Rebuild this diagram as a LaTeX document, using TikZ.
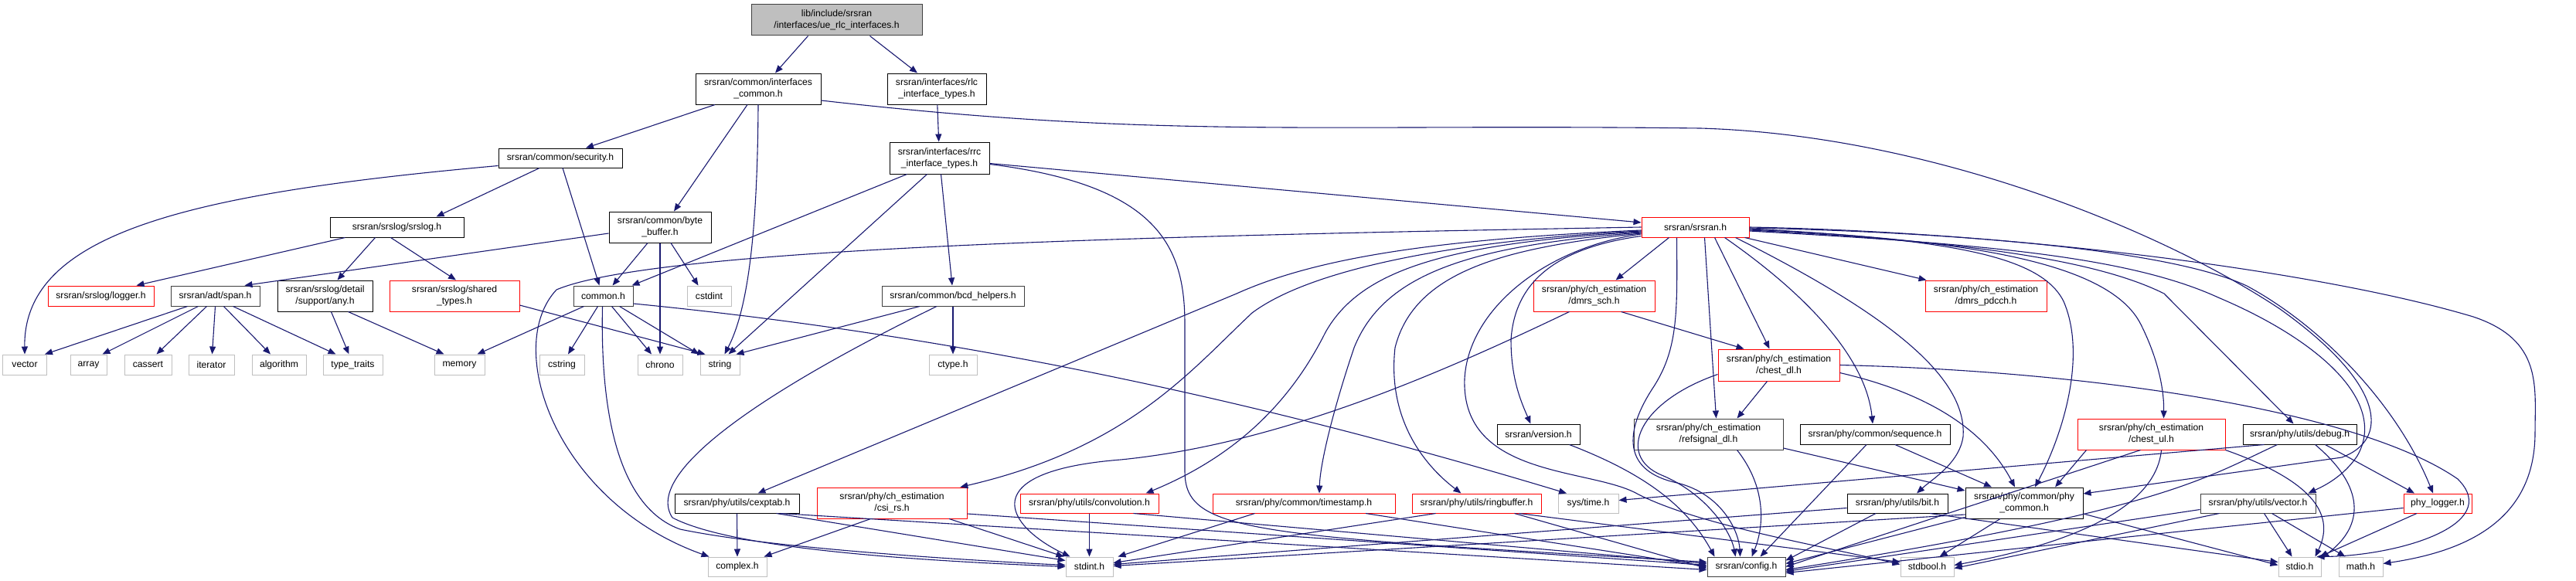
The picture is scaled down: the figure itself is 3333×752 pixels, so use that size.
\documentclass[tikz,border=0pt]{standalone}
\usepackage{fontspec}
\setmainfont{Liberation Sans}
\usetikzlibrary{arrows.meta,calc}
\definecolor{edgec}{HTML}{191970}
\definecolor{redc}{HTML}{FF0000}
\definecolor{grayc}{HTML}{BFBFBF}
\definecolor{darkc}{HTML}{404040}
\newcommand\Nd[6]{\node[#1,minimum width=#2bp,minimum height=#3bp] (#4) at (#5) {#6};}
\begin{document}
\begin{tikzpicture}[x=1bp,y=-1bp,
  box/.style={draw=black,line width=1bp,inner sep=0pt,align=center,fill=white,
    font=\fontsize{12.2}{15}\selectfont},
  rbox/.style={box,draw=redc},
  gbox/.style={box,draw=grayc},
  dbox/.style={box,draw=darkc},
  rootbox/.style={box,fill=grayc,draw=darkc},
  e/.style={draw=edgec,line width=1.1bp,-{Triangle[length=10bp,width=8bp]}},
]
\useasboundingbox (0,0) rectangle (3333,752);
% ---------------- nodes
\Nd{rootbox}{221}{40}{root}{1082.5,26}{lib/include/srsran\\/interfaces/ue\_rlc\_interfaces.h}
\Nd{box}{162}{40}{ifcommon}{981,115}{srsran/common/interfaces\\\_common.h}
\Nd{box}{128}{40}{rlctypes}{1212,115}{srsran/interfaces/rlc\\\_interface\_types.h}
\Nd{box}{129}{41}{rrctypes}{1215.5,204.5}{srsran/interfaces/rrc\\\_interface\_types.h}
\Nd{box}{160}{25}{security}{725,204.5}{srsran/common/security.h}
\Nd{box}{173}{26}{srslog}{513.5,294}{srsran/srslog/srslog.h}
\Nd{box}{132}{40}{bytebuffer}{854,294}{srsran/common/byte\\\_buffer.h}
\Nd{rbox}{139}{26}{srsranh}{2193.5,294}{srsran/srsran.h}
\Nd{rbox}{137}{26}{logger}{130.5,383}{srsran/srslog/logger.h}
\Nd{dbox}{115}{26}{span}{278.5,383}{srsran/adt/span.h}
\Nd{box}{123}{40}{any}{420.5,383}{srsran/srslog/detail\\/support/any.h}
\Nd{rbox}{168}{40}{sharedtypes}{588,383}{srsran/srslog/shared\\\_types.h}
\Nd{dbox}{77}{26}{commonh}{780.5,383}{common.h}
\Nd{gbox}{57}{26}{cstdint}{917.5,383}{cstdint}
\Nd{dbox}{184}{26}{bcd}{1233,383}{srsran/common/bcd\_helpers.h}
\Nd{rbox}{157}{40}{dmrssch}{2062.5,383}{srsran/phy/ch\_estimation\\/dmrs\_sch.h}
\Nd{rbox}{157}{40}{dmrspdcch}{2569.5,383}{srsran/phy/ch\_estimation\\/dmrs\_pdcch.h}
\Nd{gbox}{56}{26}{vector}{32,472}{vector}
\Nd{gbox}{47}{26}{array}{114.5,472}{array}
\Nd{gbox}{61}{26}{cassert}{191.5,472}{cassert}
\Nd{gbox}{59}{26}{iterator}{273.5,472}{iterator}
\Nd{gbox}{70}{26}{algorithm}{361,472}{algorithm}
\Nd{gbox}{77}{26}{typetraits}{456.5,472}{type\_traits}
\Nd{gbox}{65}{26}{memory}{594.5,472}{memory}
\Nd{gbox}{58}{26}{cstring}{727,472}{cstring}
\Nd{gbox}{58}{26}{chrono}{854,472}{chrono}
\Nd{gbox}{51}{26}{string}{931.5,472}{string}
\Nd{gbox}{62}{26}{ctype}{1233,472}{ctype.h}
\Nd{rbox}{157}{41}{chestdl}{2301.5,472.5}{srsran/phy/ch\_estimation\\/chest\_dl.h}
\Nd{box}{107}{26}{version}{1990.5,562}{srsran/version.h}
\Nd{dbox}{193}{40}{refsignal}{2210.5,562}{srsran/phy/ch\_estimation\\/refsignal\_dl.h}
\Nd{box}{194}{26}{sequence}{2426,562}{srsran/phy/common/sequence.h}
\Nd{rbox}{191}{40}{chestul}{2783.5,562}{srsran/phy/ch\_estimation\\/chest\_ul.h}
\Nd{box}{147}{26}{debug}{2975.5,562}{srsran/phy/utils/debug.h}
\Nd{box}{161}{25}{cexptab}{953.5,651.5}{srsran/phy/utils/cexptab.h}
\Nd{rbox}{194}{40}{csirs}{1154,651}{srsran/phy/ch\_estimation\\/csi\_rs.h}
\Nd{rbox}{179}{25}{convolution}{1409.5,651.5}{srsran/phy/utils/convolution.h}
\Nd{rbox}{236}{25}{timestamp}{1687,651.5}{srsran/phy/common/timestamp.h}
\Nd{rbox}{167}{25}{ringbuffer}{1910.5,651.5}{srsran/phy/utils/ringbuffer.h}
\Nd{gbox}{78}{25}{systime}{2055,651.5}{sys/time.h}
\Nd{box}{130}{25}{bit}{2455,651.5}{srsran/phy/utils/bit.h}
\Nd{box}{152}{40}{phycommon}{2619,651}{srsran/phy/common/phy\\\_common.h}
\Nd{dbox}{149}{25}{vectorh}{2921.5,651.5}{srsran/phy/utils/vector.h}
\Nd{rbox}{88}{25}{phylogger}{3154,651.5}{phy\_logger.h}
\Nd{gbox}{76}{25}{complex}{954,733.5}{complex.h}
\Nd{gbox}{61}{25}{stdint}{1409.5,733.5}{stdint.h}
\Nd{dbox}{101}{25}{config}{2259.5,733.5}{srsran/config.h}
\Nd{gbox}{69}{25}{stdbool}{2493.5,733.5}{stdbool.h}
\Nd{gbox}{55}{25}{stdio}{2975.5,733.5}{stdio.h}
\Nd{gbox}{57}{25}{math}{3054.5,733.5}{math.h}
% ---------------- edges
% root
\draw[e] ($(root.south)+(-37,0)$) -- ($(ifcommon.north)+(22,0)$);
\draw[e] ($(root.south)+(43,0)$) -- ($(rlctypes.north)+(-25,0)$);
% interfaces_common
\draw[e] ($(ifcommon.south)+(-56,0)$) -- ($(security.north)+(33,0)$);
\draw[e] ($(ifcommon.south)+(-14,0)$) -- ($(bytebuffer.north)+(18,0)$);
\draw[e] (ifcommon.south) .. controls (980,300) and (968,400) .. ($(string.north)+(6,0)$);
\draw[e] ($(ifcommon.east)+(0,15)$) .. controls (1500,180) and (1700,160) .. (2200,166)
   .. controls (2500,175) and (2800,300) .. (2950,400)
   .. controls (3090,500) and (3090,570) .. (3030,592) -- ($(phycommon.east)+(0,-12)$);
% rlc types
\draw[e] (rlctypes) -- (rrctypes);
% rrc types
\draw[e] ($(rrctypes.south)+(-42,0)$) -- ($(commonh.north)+(37,0)$);
\draw[e] ($(rrctypes.south)+(-16,0)$) -- ($(string.north)+(11,0)$);
\draw[e] ($(rrctypes.south)+(2,0)$) -- ($(bcd.north)+(-1,0)$);
\draw[e] ($(rrctypes.east)+(0,7)$) -- ($(srsranh.west)+(0,-6)$);
\draw[e] ($(rrctypes.east)+(0,8)$) .. controls (1500,240) and (1533,320) .. (1533,420) -- (1533,610)
   .. controls (1533,690) and (1620,693) .. ($(config.west)+(0,-6)$);
% security
\draw[e] ($(security.west)+(0,10)$) .. controls (250,250) and (30,300) .. (vector.north);
\draw[e] ($(security.south)+(-27,0)$) -- ($(srslog.north)+(51,0)$);
\draw[e] ($(security.south)+(3,0)$) -- ($(commonh.north)+(-5,0)$);
% srslog
\draw[e] ($(srslog.south)+(-67,0)$) -- ($(logger.north)+(46,0)$);
\draw[e] ($(srslog.south)+(-28,0)$) -- ($(any.north)+(16,0)$);
\draw[e] ($(srslog.south)+(-8,0)$) -- ($(sharedtypes.north)+(2,0)$);
% byte buffer
\draw[e] ($(bytebuffer.west)+(0,8)$) -- ($(span.north east)+(-20,0)$);
\draw[e] ($(bytebuffer.south)+(-16,0)$) -- ($(commonh.north)+(12,0)$);
\draw[e] (bytebuffer.south) -- (chrono.north);
\draw[e] ($(bytebuffer.south)+(14,0)$) -- ($(cstdint.north)+(-14,0)$);
% span
\draw[e] ($(span.south)+(-36,0)$) -- ($(vector.north)+(26,0)$);
\draw[e] ($(span.south)+(-22,0)$) -- ($(array.north)+(18,0)$);
\draw[e] ($(span.south)+(-11,0)$) -- ($(cassert.north)+(11,0)$);
\draw[e] (span.south) -- ($(iterator.north)+(1,0)$);
\draw[e] ($(span.south)+(11,0)$) -- ($(algorithm.north)+(-11,0)$);
\draw[e] ($(span.south)+(23,0)$) -- ($(typetraits.north)+(-22,0)$);
% any
\draw[e] ($(any.south)+(8,0)$) -- ($(typetraits.north)+(-5,0)$);
\draw[e] ($(any.south)+(30,0)$) -- ($(memory.north)+(-20,0)$);
% shared types
\draw[e] ($(sharedtypes.east)+(0,12)$) -- ($(string.north)+(-19,0)$);
% common.h
\draw[e] ($(commonh.south)+(-25,0)$) -- ($(memory.north)+(23,0)$);
\draw[e] ($(commonh.south)+(-7,0)$) -- ($(cstring.north)+(8,0)$);
\draw[e] ($(commonh.south)+(11,0)$) -- ($(chrono.north)+(-11,0)$);
\draw[e] ($(commonh.south)+(21,0)$) -- ($(string.north)+(-27,0)$);
\draw[e] ($(commonh.south)+(-1,0)$) .. controls (776,560) and (810,660) .. (880,685)
   .. controls (1000,710) and (1250,725) .. ($(stdint.west)+(0,-2)$);
\draw[e] ($(commonh.east)+(0,10)$) .. controls (1300,440) and (1700,540) .. ($(systime.north)+(-28,0)$);
% bcd helpers
\draw[e] (bcd.south) -- (ctype.north);
\draw[e] ($(bcd.south)+(-43,0)$) -- ($(string.north)+(21,0)$);
\draw[e] ($(bcd.south)+(-21,0)$) .. controls (1000,500) and (830,610) .. (870,670)
   .. controls (950,712) and (1200,726) .. ($(stdint.west)+(0,0)$);
% srsran.h : left fan
\draw[e] (srsranh.west) .. controls (1500,305) and (850,320) .. (720,375)
   .. controls (650,450) and (720,650) .. ($(complex.north west)+(2,0)$);
\draw[e] ($(srsranh.west)+(0,4)$) .. controls (1850,310) and (1700,335) .. (1600,380) -- ($(cexptab.north)+(27,0)$);
\draw[e] ($(srsranh.west)+(0,5)$) .. controls (1900,310) and (1700,345) .. (1620,405)
   .. controls (1540,480) and (1460,580) .. (csirs);
\draw[e] ($(srsranh.west)+(0,6)$) .. controls (1870,315) and (1760,350) .. (1715,430)
   .. controls (1670,520) and (1600,590) .. ($(convolution.north)+(73,0)$);
\draw[e] ($(srsranh.west)+(0,7)$) .. controls (1900,318) and (1790,355) .. (1752,450)
   .. controls (1725,530) and (1708,600) .. ($(timestamp.north)+(20,0)$);
\draw[e] ($(srsranh.west)+(0,8)$) .. controls (1950,320) and (1830,350) .. (1805,450)
   .. controls (1795,540) and (1840,600) .. ($(ringbuffer.north)+(-20,0)$);
\draw[e] ($(srsranh.west)+(0,9)$) .. controls (2000,320) and (1900,400) .. (1895,490)
   .. controls (1890,620) and (2060,605) .. (2120,640)
   .. controls (2200,680) and (2350,705) .. ($(stdbool.west)+(0,-3)$);
\draw[e] ($(srsranh.south west)+(0,-2)$) .. controls (2020,320) and (1960,360) .. (1955,440)
   .. controls (1955,490) and (1968,520) .. ($(version.north)+(-10,0)$);
% srsran.h : down fan
\draw[e] ($(srsranh.south)+(-34,0)$) -- ($(dmrssch.north)+(28,0)$);
\draw[e] ($(srsranh.south)+(-24,0)$) .. controls (2170,400) and (2172,450) .. (2140,500)
   .. controls (2100,560) and (2100,610) .. (2170,625)
   .. controls (2230,640) and (2250,690) .. ($(config.north)+(-8,0)$);
\draw[e] ($(srsranh.south)+(12,0)$) -- ($(refsignal.north)+(10,0)$);
\draw[e] ($(srsranh.south)+(25,0)$) -- ($(chestdl.north)+(-12,0)$);
\draw[e] ($(srsranh.south)+(38,0)$) .. controls (2350,390) and (2415,470) .. ($(sequence.north)+(-3,0)$);
\draw[e] ($(srsranh.south)+(52,0)$) .. controls (2450,410) and (2545,490) .. (2540,565)
   .. controls (2535,600) and (2500,620) .. ($(bit.north)+(25,0)$);
\draw[e] ($(srsranh.south east)+(-6,0)$) -- ($(dmrspdcch.north west)+(2,0)$);
% srsran.h : right fan
\draw[e] ($(srsranh.east)+(0,2)$) .. controls (2520,310) and (2640,330) .. (2670,390)
   .. controls (2700,460) and (2670,560) .. ($(phycommon.north)+(14,0)$);
\draw[e] ($(srsranh.east)+(0,3)$) .. controls (2550,310) and (2730,340) .. (2770,420)
   .. controls (2795,470) and (2800,510) .. ($(chestul.north)+(16,0)$);
\draw[e] ($(srsranh.east)+(0,4)$) .. controls (2500,310) and (2700,330) .. (2800,380) -- ($(debug.north)+(-8,0)$);
\draw[e] ($(srsranh.east)+(0,5)$) .. controls (2550,315) and (2750,330) .. (2870,385)
   .. controls (3000,440) and (3090,520) .. (3050,590)
   .. controls (3030,620) and (3000,632) .. ($(vectorh.north)+(65,0)$);
\draw[e] ($(srsranh.east)+(0,1)$) .. controls (2500,300) and (2800,320) .. (2907,370)
   .. controls (3000,420) and (3100,520) .. ($(phylogger.north)+(-6,0)$);
\draw[e] ($(srsranh.east)+(0,0)$) .. controls (2600,300) and (3000,350) .. (3200,410)
   .. controls (3290,440) and (3280,500) .. (3280,560)
   .. controls (3280,680) and (3180,715) .. ($(math.east)+(0,-4)$);
% dmrs_sch
\draw[e] ($(dmrssch.south)+(35,0)$) -- ($(chestdl.north)+(-45,0)$);
\draw[e] ($(dmrssch.south)+(-32,0)$) .. controls (1850,490) and (1650,575) .. (1450,595)
   .. controls (1260,610) and (1300,680) .. ($(stdint.north)+(-25,0)$);
% cexptab
\draw[e] (cexptab.south) -- (complex.north);
\draw[e] ($(cexptab.south east)+(-30,0)$) -- ($(stdint.west)+(0,-8)$);
\draw[e] ($(cexptab.south east)+(-25,0)$) -- ($(config.west)+(0,4)$);
% csi_rs
\draw[e] ($(csirs.south west)+(70,0)$) -- ($(complex.north east)+(-4,0)$);
\draw[e] ($(csirs.south)+(74,0)$) -- ($(stdint.north west)+(-2,0)$);
\draw[e] ($(csirs.east)+(0,14)$) -- ($(config.west)+(0,-2)$);
% convolution
\draw[e] (convolution.south) -- (stdint.north);
\draw[e] ($(convolution.south)+(57,0)$) -- ($(config.west)+(0,-4)$);
% timestamp
\draw[e] ($(timestamp.south west)+(55,0)$) -- ($(stdint.north east)+(6,0)$);
\draw[e] ($(timestamp.south)+(80,0)$) -- ($(config.west)+(0,0)$);
% ringbuffer
\draw[e] ($(ringbuffer.south)+(-53,0)$) -- ($(stdint.east)+(0,-5)$);
\draw[e] ($(ringbuffer.south)+(49,0)$) -- ($(config.west)+(0,2)$);
\draw[e] ($(ringbuffer.south)+(55,0)$) -- ($(stdbool.west)+(0,-6)$);
% version
\draw[e] ($(version.south)+(40,0)$) .. controls (2120,610) and (2180,650) .. ($(config.north west)+(10,0)$);
% refsignal
\draw[e] ($(refsignal.south)+(37,0)$) .. controls (2285,630) and (2283,680) .. ($(config.north)+(7,0)$);
\draw[e] ($(refsignal.east)+(0,18)$) -- ($(phycommon.west)+(0,-16)$);
% sequence
\draw[e] ($(sequence.south)+(-11,0)$) -- ($(config.north)+(18,0)$);
\draw[e] ($(sequence.south)+(26,0)$) -- ($(phycommon.north)+(-42,0)$);
% chest_dl
\draw[e] ($(chestdl.south)+(-15,0)$) -- ($(refsignal.north)+(37,0)$);
\draw[e] ($(chestdl.east)+(0,10)$) .. controls (2500,510) and (2570,560) .. ($(phycommon.north)+(-12,0)$);
\draw[e] ($(chestdl.west)+(0,12)$) .. controls (2120,520) and (2090,590) .. (2150,615)
   .. controls (2210,640) and (2240,690) .. ($(config.north)+(-14,0)$);
\draw[e] (chestdl.east) .. controls (2700,480) and (3050,530) .. (3180,620)
   .. controls (3240,680) and (3100,720) .. ($(stdio.north east)+(-6,0)$);
% bit
\draw[e] ($(bit.west)+(0,6)$) -- ($(stdint.east)+(0,-3)$);
\draw[e] ($(bit.south)+(-28,0)$) -- ($(config.east)+(0,-8)$);
\draw[e] ($(bit.south)+(42,0)$) -- ($(stdio.west)+(0,-6)$);
% phy_common
\draw[e] ($(phycommon.south west)+(0,-2)$) -- ($(config.east)+(0,-4)$);
\draw[e] ($(phycommon.south)+(-31,0)$) -- ($(stdbool.north)+(16,0)$);
\draw[e] ($(phycommon.west)+(0,15)$) -- ($(stdint.east)+(0,-1)$);
\draw[e] ($(phycommon.east)+(0,14)$) -- ($(stdio.west)+(0,-2)$);
% chest_ul
\draw[e] ($(chestul.south west)+(12,0)$) -- ($(phycommon.north)+(40,0)$);
\draw[e] ($(chestul.south west)+(82,0)$) -- ($(config.east)+(0,0)$);
\draw[e] ($(chestul.south west)+(109,0)$) .. controls (2790,650) and (2700,700) .. ($(stdbool.east)+(0,-2)$);
\draw[e] (chestul.south east) .. controls (3000,625) and (3020,670) .. ($(stdio.north)+(20,0)$);
% debug
\draw[e] ($(debug.south west)+(28,0)$) -- ($(systime.east)+(0,-4)$);
\draw[e] ($(debug.south west)+(45,0)$) .. controls (2850,620) and (2800,660) .. ($(config.east)+(0,4)$);
\draw[e] ($(debug.south)+(33,0)$) -- ($(phylogger.north)+(-30,0)$);
\draw[e] ($(debug.south)+(20,0)$) .. controls (3060,630) and (3060,680) .. ($(stdio.north east)+(0,2)$);
% vector.h
\draw[e] ($(vectorh.south)+(8,0)$) -- ($(stdio.north)+(-10,0)$);
\draw[e] ($(vectorh.south)+(18,0)$) -- ($(math.north)+(-20,0)$);
\draw[e] ($(vectorh.west)+(0,8)$) -- ($(config.east)+(0,6)$);
\draw[e] ($(vectorh.south west)+(25,0)$) -- ($(stdbool.east)+(0,2)$);
% phy_logger
\draw[e] ($(phylogger.south)+(-27,0)$) -- ($(stdio.north east)+(-2,0)$);
\draw[e] ($(phylogger.west)+(0,6)$) -- ($(config.east)+(0,8)$);
\end{tikzpicture}
\end{document}
